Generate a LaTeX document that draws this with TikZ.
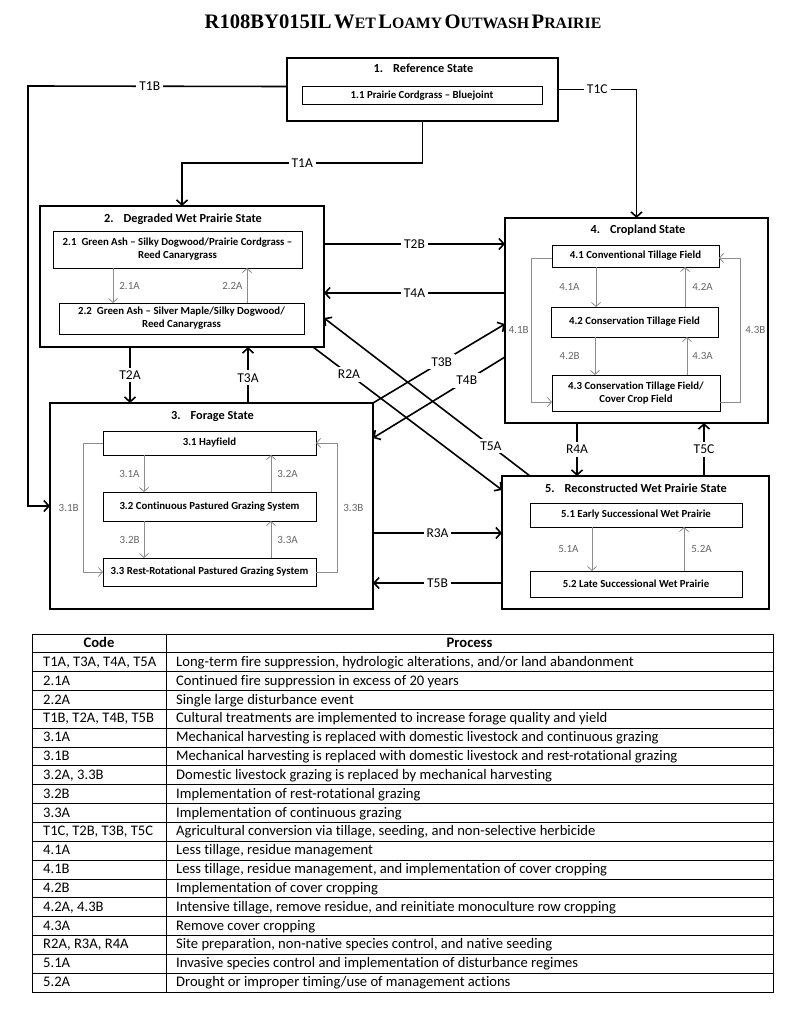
\documentclass[tikz,border=0pt]{standalone}
\usepackage{fontspec}
\setmainfont{Carlito}[Ligatures=NoCommon]
\newfontfamily\titlefont{Liberation Serif}
\usetikzlibrary{arrows.meta}
\newcommand{\scword}[2]{{\fontsize{20.6}{22}\selectfont #1}{\fontsize{15.8}{17}\selectfont #2}}

\begin{document}
\begin{tikzpicture}[x=1pt,y=-1pt,
  statebox/.style={draw,line width=1.6pt,inner sep=0pt,outer sep=0pt},
  phasebox/.style={draw,line width=1pt,inner sep=0pt,outer sep=0pt,align=center,
    font=\fontsize{10.8}{13}\selectfont\bfseries},
  statetitle/.style={inner sep=0pt,anchor=base,font=\fontsize{12.3}{13}\selectfont\bfseries},
  trans/.style={line width=1.6pt,-{Straight Barb[length=5pt,width=11pt]}},
  tlabel/.style={fill=white,inner sep=3pt,font=\fontsize{13.5}{15}\selectfont},
  inner/.style={draw=black!45,line width=0.8pt,-{Straight Barb[length=4pt,width=9pt]}},
  ilabel/.style={text=black!60,inner sep=0pt,font=\fontsize{11}{12}\selectfont},
  cell/.style={inner sep=0pt,anchor=base west,font=\fontsize{14.6}{16}\selectfont},
  tablerule/.style={line width=0.8pt}]
  \useasboundingbox (0,0) rectangle (800,1014);

  \node[inner sep=0pt,anchor=base] (title) at (403,29) {\titlefont\bfseries
    \scword{R108BY015IL}{} \scword{W}{ET} \scword{L}{OAMY} \scword{O}{UTWASH} \scword{P}{RAIRIE}};

  \node[statebox,minimum width=271pt,minimum height=63pt] (s1) at (422.5,89.5) {};
  \node[statebox,minimum width=284pt,minimum height=141pt] (s2) at (182,276.5) {};
  \node[statebox,minimum width=323pt,minimum height=206pt] (s3) at (211.5,506) {};
  \node[statebox,minimum width=263pt,minimum height=205pt] (s4) at (636.5,320.5) {};
  \node[statebox,minimum width=267pt,minimum height=133pt] (s5) at (635.5,542.5) {};

  \node[statetitle] (t1) at (423.5,73) {1.\hspace{10pt}Reference State};
  \node[statetitle] (t2) at (183,222) {2.\hspace{10pt}Degraded Wet Prairie State};
  \node[statetitle] (t3) at (212.5,419) {3.\hspace{10pt}Forage State};
  \node[statetitle] (t4) at (638,233) {4.\hspace{10pt}Cropland State};
  \node[statetitle] (t5) at (636,492) {5.\hspace{10pt}Reconstructed Wet Prairie State};

  \node[phasebox,minimum width=240pt,minimum height=18pt] (p11) at (422,96) {1.1 Prairie Cordgrass -- Bluejoint};
  \node[phasebox,minimum width=249pt,minimum height=37pt] (p21) at (177.5,249.5)
    {2.1\hspace{5pt}Green Ash -- Silky Dogwood/Prairie Cordgrass --\\Reed Canarygrass};
  \node[phasebox,minimum width=245pt,minimum height=31pt] (p22) at (181.5,318.5)
    {2.2\hspace{5pt}Green Ash -- Silver Maple/Silky Dogwood/\\Reed Canarygrass};
  \node[phasebox,minimum width=213pt,minimum height=24pt] (p31) at (209.5,443) {3.1 Hayfield};
  \node[phasebox,minimum width=213pt,minimum height=29pt] (p32) at (209.5,506.5) {3.2 Continuous Pastured Grazing System};
  \node[phasebox,minimum width=213pt,minimum height=28pt] (p33) at (209.5,572) {3.3 Rest-Rotational Pastured Grazing System};
  \node[phasebox,minimum width=167pt,minimum height=22pt] (p41) at (635.5,256) {4.1 Conventional Tillage Field};
  \node[phasebox,minimum width=167pt,minimum height=30pt] (p42) at (634.5,322) {4.2 Conservation Tillage Field};
  \node[phasebox,minimum width=168pt,minimum height=36pt] (p43) at (636,393) {4.3 Conservation Tillage Field/\\Cover Crop Field};
  \node[phasebox,minimum width=212pt,minimum height=24pt] (p51) at (636,515) {5.1 Early Successional Wet Prairie};
  \node[phasebox,minimum width=212pt,minimum height=26pt] (p52) at (636,584) {5.2 Late Successional Wet Prairie};

  \coordinate (k1b) at (28,86);
  \coordinate (k1a) at (s2.north |- 0,163);
  \draw[trans] ([yshift=3pt]s1.west) -- node[tlabel,pos=0.53]{T1B} (k1b) |- (s3.west);
  \draw[trans] (s1.east) -| node[tlabel,pos=0.25]{T1C} (s4.north);
  \draw[trans] (s1.south) |- node[tlabel,pos=0.75]{T1A} (k1a) -- (s2.north);
  \draw[trans] (s2.east |- 0,244) -- node[tlabel]{T2B} (s4.west |- 0,244);
  \draw[trans] (s4.west |- 0,293) -- node[tlabel]{T4A} (s2.east |- 0,293);
  \draw[trans] (s2.south -| 130,0) -- node[tlabel]{T2A} (s3.north -| 130,0);
  \draw[trans] (s3.north -| 248,0) -- node[tlabel,pos=0.45]{T3A} (s2.south -| 248,0);
  \draw[trans] ([xshift=-11pt]s2.south east) -- node[tlabel,pos=0.19]{R2A} ([yshift=-14pt]s5.north west);
  \draw[trans] ([xshift=28pt]s5.north west) -- node[tlabel,pos=0.19]{T5A} ([yshift=-112pt]s2.north east);
  \draw[trans] (s3.north east) -- node[tlabel,pos=0.52]{T3B} ([yshift=-106pt]s4.north west);
  \draw[trans] ([yshift=-139pt]s4.north west) -- node[tlabel,pos=0.29]{T4B} ([yshift=-35pt]s3.north east);
  \draw[trans] (s3.east |- 0,533) -- node[tlabel]{R3A} (s5.west |- 0,533);
  \draw[trans] (s5.west |- 0,583) -- node[tlabel]{T5B} (s3.east |- 0,583);
  \draw[trans] (s4.south -| 577,0) -- node[tlabel]{R4A} (s5.north -| 577,0);
  \draw[trans] (s5.north -| 704,0) -- node[tlabel]{T5C} (s4.south -| 704,0);

  \draw[inner] (p21.south -| 113,0) -- node[ilabel,right=6pt]{2.1A} (p22.north -| 113,0);
  \draw[inner] (p22.north -| 247,0) -- node[ilabel,left=4pt]{2.2A} (p21.south -| 247,0);
  \draw[inner] (p31.south -| 144,0) -- node[ilabel,left=4pt]{3.1A} (p32.north -| 144,0);
  \draw[inner] (p32.north -| 271,0) -- node[ilabel,right=6pt]{3.2A} (p31.south -| 271,0);
  \draw[inner] (p32.south -| 144,0) -- node[ilabel,left=4pt]{3.2B} (p33.north -| 144,0);
  \draw[inner] (p33.north -| 271,0) -- node[ilabel,right=6pt]{3.3A} (p32.south -| 271,0);
  \draw[inner] (p31.west) -- ++(-20,0) |- node[ilabel,pos=0.25,left=4pt]{3.1B} (p33.west);
  \draw[inner] (p33.east) -- ++(21,0) |- node[ilabel,pos=0.25,right=6pt]{3.3B} (p31.east);
  \draw[inner] (p41.south -| 596,0) -- node[ilabel,left=16pt]{4.1A} (p42.north -| 596,0);
  \draw[inner] (p42.north -| 685,0) -- node[ilabel,right=7pt]{4.2A} (p41.south -| 685,0);
  \draw[inner] (p42.south -| 595,0) -- node[ilabel,left=15pt]{4.2B} (p43.north -| 595,0);
  \draw[inner] (p43.north -| 687,0) -- node[ilabel,right=5pt]{4.3A} (p42.south -| 687,0);
  \draw[inner] ([yshift=-2pt]p41.west) -- ++(-21,0) |- node[ilabel,pos=0.25,left=2pt]{4.1B} ([yshift=-9pt]p43.west);
  \draw[inner] ([yshift=-9pt]p43.east) -- ++(20,0) |- node[ilabel,pos=0.25,right=5pt]{4.3B} ([yshift=-2pt]p41.east);
  \draw[inner] (p51.south -| 592,0) -- node[ilabel,left=13pt]{5.1A} (p52.north -| 592,0);
  \draw[inner] (p52.north -| 684,0) -- node[ilabel,right=7pt]{5.2A} (p51.south -| 684,0);

  \draw[tablerule] (32,634) rectangle (773,992);
  \draw[tablerule] (166,634) -- (166,992);
  \node[cell,anchor=base,font=\fontsize{14.6}{16}\selectfont\bfseries] (codehead) at (99,647.5) {Code};
  \node[cell,anchor=base,font=\fontsize{14.6}{16}\selectfont\bfseries] (prochead) at (469.5,647.5) {Process};
  \foreach \c/\p [count=\i] in {
    {T1A, T3A, T4A, T5A}/{Long-term fire suppression, hydrologic alterations, and/or land abandonment},
    {2.1A}/{Continued fire suppression in excess of 20 years},
    {2.2A}/{Single large disturbance event},
    {T1B, T2A, T4B, T5B}/{Cultural treatments are implemented to increase forage quality and yield},
    {3.1A}/{Mechanical harvesting is replaced with domestic livestock and continuous grazing},
    {3.1B}/{Mechanical harvesting is replaced with domestic livestock and rest-rotational grazing},
    {3.2A, 3.3B}/{Domestic livestock grazing is replaced by mechanical harvesting},
    {3.2B}/{Implementation of rest-rotational grazing},
    {3.3A}/{Implementation of continuous grazing},
    {T1C, T2B, T3B, T5C}/{Agricultural conversion via tillage, seeding, and non-selective herbicide},
    {4.1A}/{Less tillage, residue management},
    {4.1B}/{Less tillage, residue management, and implementation of cover cropping},
    {4.2B}/{Implementation of cover cropping},
    {4.2A, 4.3B}/{Intensive tillage, remove residue, and reinitiate monoculture row cropping},
    {4.3A}/{Remove cover cropping},
    {R2A, R3A, R4A}/{Site preparation, non-native species control, and native seeding},
    {5.1A}/{Invasive species control and implementation of disturbance regimes},
    {5.2A}/{Drought or improper timing/use of management actions}} {
    \draw[tablerule] (32,{634+\i*18.84}) -- (773,{634+\i*18.84});
    \node[cell] (code\i) at (43,{634+\i*18.84+13.5}) {\c};
    \node[cell] (proc\i) at (176,{634+\i*18.84+13.5}) {\p};
  }
\end{tikzpicture}
\end{document}
